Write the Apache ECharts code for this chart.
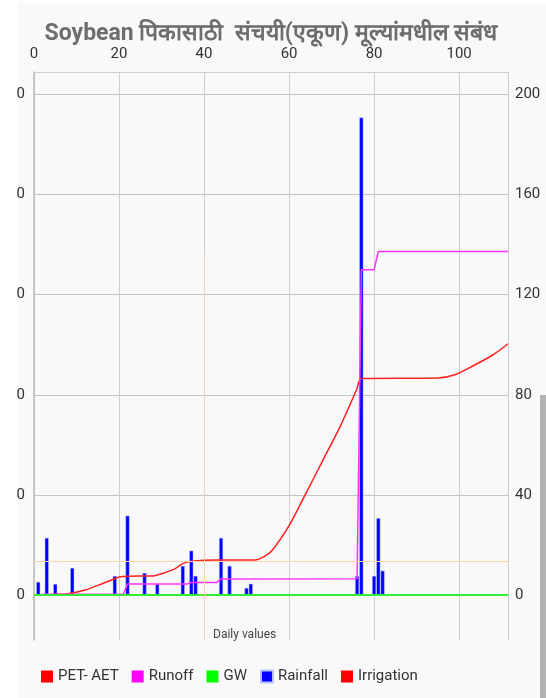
<!DOCTYPE html>
<html>
<head>
<meta charset="utf-8">
<script src="https://cdn.jsdelivr.net/npm/echarts@6/dist/echarts.min.js"></script>
<style>
  html, body { margin: 0; padding: 0; background: #fff; }
  #box { width: 546px; height: 698px; }
</style>
</head>
<body>
<div id="box"></div>
<script>
// x values are days, y values are cumulative mm
const xTicks = [0, 20, 40, 60, 80, 100]
const yTicks = [0, 40, 80, 120, 160, 200]

const petAet = [[2, 0], [5, 0.2], [8, 0.5], [12, 2], [16, 4.5], [19, 6.5], [20, 7.2], [22, 7.5],
  [28, 7.6], [30, 8.5], [33, 10.3], [35, 12.5], [37, 13.5], [43, 14], [52, 14], [54, 15.2],
  [56, 17.8], [60, 27.7], [64, 40.7], [68, 54], [72, 67.3], [76, 82.5], [77, 86.5], [95, 86.7],
  [99, 88], [103, 91.3], [108, 96], [111.5, 100.4]]

const runoff = [[2, 0.3], [21, 0.3], [22, 4.4], [36, 4.4], [37, 5], [43, 5], [44, 6.4], [76, 6.5],
  [77, 130], [80, 130], [81, 137.3], [111.5, 137.3]]

const gw = [[0, 0], [111.5, 0]]

const rainfall = [[1, 5.2], [3, 22.8], [5, 4.4], [9, 10.8], [19, 7.6], [22, 31.7], [26, 8.8],
  [29, 4.4], [35, 11.6], [37, 17.7], [38, 7.6], [44, 22.8], [46, 11.6], [50, 2.8], [51, 4.5],
  [76, 7.6], [77, 190.8], [80, 7.6], [81, 30.7], [82, 9.7]]

const irrigation = []

const markX = 40
const markY = 13.6

const gridColor = "#cfcfcf"
const labelStyle = {color: "#333", fontSize: 15, fontFamily: "Roboto"}

let myChart = echarts.init(document.getElementById("box"))

myChart.setOption({
  animation: false,
  backgroundColor: "#fff",
  graphic: [
    {type: "rect", z: -10, shape: {x: 18, y: 3, width: 528, height: 695}, style: {fill: "#f9f9f9"}},
    {type: "rect", z: 10, shape: {x: 540, y: 395, width: 6, height: 303}, style: {fill: "#b3b3b3"}},
    {type: "text", left: 213, top: 629, style: {text: "Daily values", fill: "#444", fontSize: 12, fontFamily: "Roboto"}}
  ],
  title: {
    text: "Soybean पिकासाठी  संचयी(एकूण) मूल्यांमधील संबंध",
    left: 266,
    textAlign: "center",
    top: 18,
    textStyle: {color: "#6d6d6d", fontSize: 23, fontWeight: "bold", fontFamily: "Roboto"}
  },
  legend: {
    left: 36,
    top: 664,
    icon: "rect",
    itemWidth: 12,
    itemHeight: 12,
    itemGap: 13,
    textStyle: {color: "#333", fontSize: 15, fontFamily: "Roboto"},
    data: ["PET- AET", "Runoff", "GW", "Rainfall", "Irrigation"]
  },
  grid: {left: 34, right: 38, top: 72, bottom: 58, show: true, borderColor: gridColor, borderWidth: 0},
  xAxis: {
    type: "value",
    position: "top",
    min: 0,
    max: 111.5,
    interval: 20,
    axisLine: {show: true, onZero: false, lineStyle: {color: gridColor}},
    axisTick: {show: false},
    splitLine: {show: true, lineStyle: {color: gridColor}},
    axisLabel: Object.assign({margin: 10, showMaxLabel: false}, labelStyle)
  },
  yAxis: [
    {
      type: "value",
      position: "left",
      min: -18,
      max: 209,
      axisLine: {show: true, lineStyle: {color: "#bbb", width: 1.5}},
      axisTick: {show: false, customValues: yTicks},
      splitLine: {show: true, lineStyle: {color: "#c4c4c4"}},
      axisLabel: Object.assign({margin: 9, customValues: yTicks, formatter: () => "0"}, labelStyle)
    },
    {
      type: "value",
      position: "right",
      min: -18,
      max: 209,
      axisLine: {show: true, lineStyle: {color: gridColor}},
      axisTick: {show: false, customValues: yTicks},
      splitLine: {show: false},
      axisLabel: Object.assign({margin: 7, customValues: yTicks}, labelStyle)
    }
  ],
  series: [
    {
      name: "PET- AET", type: "line", yAxisIndex: 1, data: petAet,
      smooth: 0.3, showSymbol: false,
      lineStyle: {color: "#ff2020", width: 1.5}, itemStyle: {color: "#ff0000"},
      markLine: {
        silent: true, symbol: "none", label: {show: false},
        lineStyle: {color: "#ffd3a8", type: "solid", width: 1},
        data: [
          {yAxis: markY},
          [{coord: [markX, -18]}, {coord: [markX, 136]}]
        ]
      }
    },
    {
      name: "Runoff", type: "line", yAxisIndex: 1, data: runoff, showSymbol: false,
      lineStyle: {color: "#ff33ff", width: 1.5}, itemStyle: {color: "#ff00ff"}
    },
    {
      name: "GW", type: "line", yAxisIndex: 1, data: gw, showSymbol: false,
      lineStyle: {color: "#33ee33", width: 2}, itemStyle: {color: "#00ff00"}
    },
    {
      name: "Rainfall", type: "bar", yAxisIndex: 1, data: rainfall, barWidth: 4, z: 1,
      itemStyle: {color: "#0000ff", borderColor: "#b8c4ff", borderWidth: 0.5}
    },
    {
      name: "Irrigation", type: "line", yAxisIndex: 1, data: irrigation, showSymbol: false,
      lineStyle: {color: "#ff0000"}, itemStyle: {color: "#ff0000"}
    }
  ]
})
</script>
</body>
</html>
